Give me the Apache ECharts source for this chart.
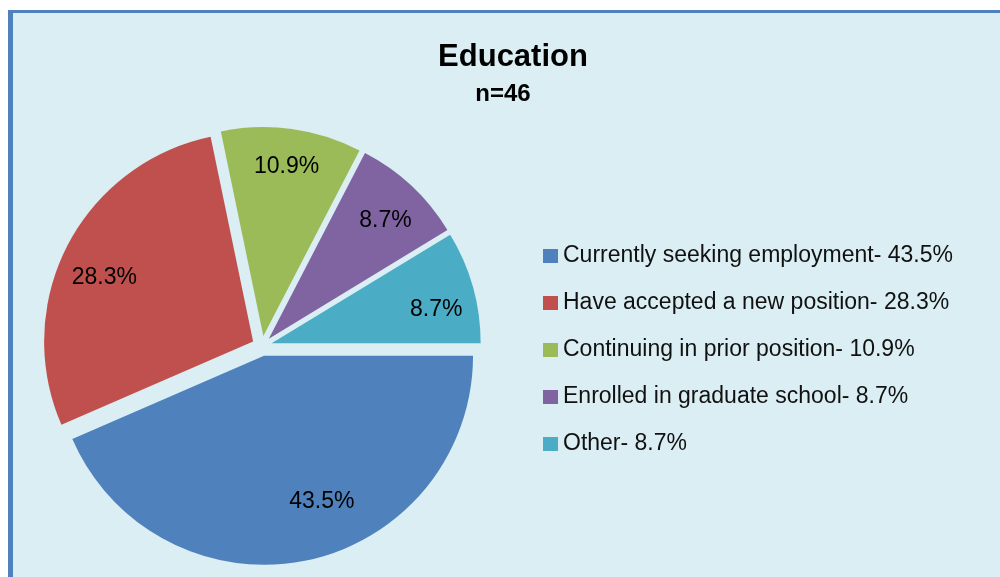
<!DOCTYPE html>
<html>
<head>
<meta charset="utf-8">
<script src="https://cdn.jsdelivr.net/npm/echarts@6/dist/echarts.min.js"></script>
<style>
  html, body { margin: 0; padding: 0; background: #fff; }
  #main { width: 1000px; height: 577px; }
</style>
</head>
<body>
<div id="main"></div>
<script>
var categories = ["Currently seeking employment", "Have accepted a new position", "Continuing in prior position", "Enrolled in graduate school", "Other"];
var counts = [20, 13, 5, 4, 4];   // n = 46
var colors = ["#4F81BD", "#C0504D", "#9BBB59", "#8064A2", "#4BACC6"];

var total = counts.reduce(function (a, b) { return a + b; }, 0);
function pct(v) { return (v / total * 100).toFixed(1) + "%"; }

var chart = echarts.init(document.getElementById("main"));

var pieData = categories.map(function (name, i) {
  return { name: name, value: counts[i], selected: true };
});
var font = "Liberation Sans, Arial, sans-serif";
// small nudges so the labels sit where Excel put them
var labelNudge = [[23, -22], [3, 15], [0, 0], [0, 7], [0, 12]];

var option = {
  animation: false,
  color: colors,
  graphic: [
    { type: "rect", z: -10, shape: { x: 8, y: 10, width: 1000, height: 600 }, style: { fill: "#4F81BD" } },
    { type: "rect", z: -9, shape: { x: 13, y: 13, width: 1000, height: 600 }, style: { fill: "#DAEEF3" } }
  ],
  title: [
    { text: "Education", left: 508, top: 36, textAlign: "center",
      textStyle: { fontFamily: font, fontSize: 31, fontWeight: "bold", color: "#000", lineHeight: 32 } },
    { text: "n=46", left: 498, top: 77, textAlign: "center",
      textStyle: { fontFamily: font, fontSize: 24, fontWeight: "bold", color: "#000", lineHeight: 24 } }
  ],
  legend: {
    orient: "vertical",
    left: 538,
    top: 237,
    icon: "rect",
    itemWidth: 15,
    itemHeight: 14,
    itemGap: 19,
    selectedMode: false,
    textStyle: { fontFamily: font, fontSize: 23, color: "#111", lineHeight: 28 },
    formatter: function (name) {
      return name + "- " + pct(counts[categories.indexOf(name)]);
    },
    data: categories
  },
  series: [
    {
      type: "pie",
      center: [262, 346],
      radius: 209,
      startAngle: 0,
      clockwise: true,
      selectedMode: "multiple",
      selectedOffset: 10,
      label: { show: false },
      labelLine: { show: false },
      emphasis: { disabled: true },
      data: pieData
    },
    {
      // same slices, transparent, only to place the labels near the rim
      type: "pie",
      silent: true,
      center: [262, 346],
      radius: [127, 209],
      startAngle: 0,
      clockwise: true,
      selectedMode: "multiple",
      selectedOffset: 10,
      itemStyle: { color: "transparent" },
      label: {
        show: true,
        position: "inside",
        formatter: function (p) { return pct(p.value); },
        fontFamily: font,
        fontSize: 23,
        color: "#000"
      },
      labelLine: { show: false },
      labelLayout: function (p) {
        var n = labelNudge[p.dataIndex];
        return { dx: n[0], dy: n[1] };
      },
      emphasis: { disabled: true },
      data: pieData
    }
  ]
};
chart.setOption(option);
</script>
</body>
</html>
